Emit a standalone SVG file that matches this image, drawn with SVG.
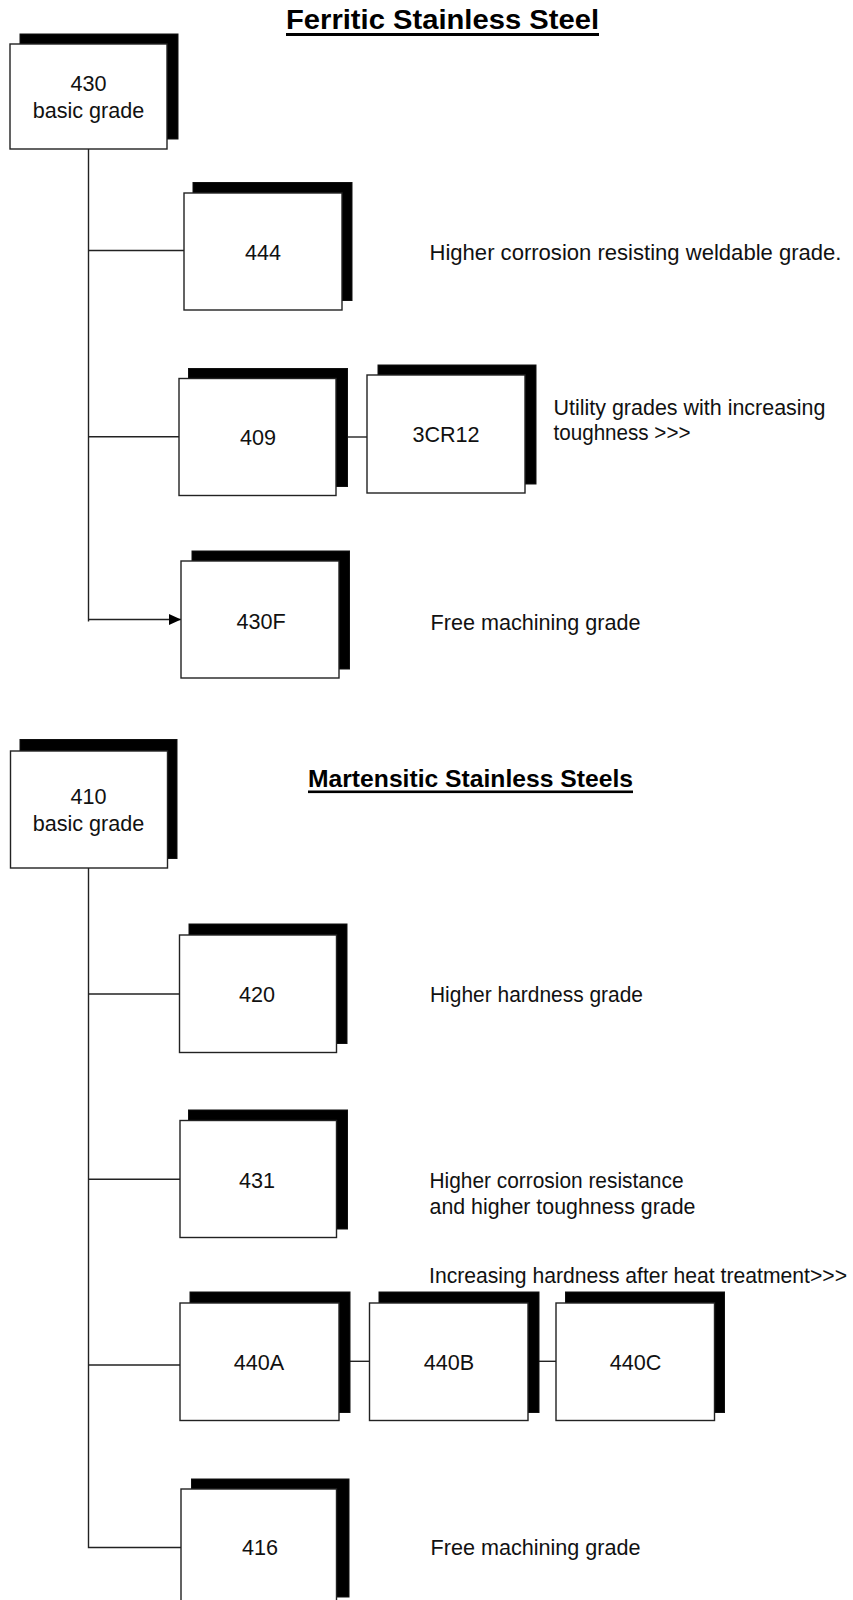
<svg xmlns="http://www.w3.org/2000/svg" width="853" height="1600" viewBox="0 0 853 1600">
<defs>
<style>
.sh{fill:#000;stroke:#111;stroke-width:1}
.bx{fill:#fff;stroke:#222;stroke-width:1.4}
.ln{fill:none;stroke:#222;stroke-width:1.4}
.t{font-family:"Liberation Sans",Arial,sans-serif;font-size:21.6px;fill:#111}
.c{text-anchor:middle}
.h{font-family:"Liberation Sans",Arial,sans-serif;font-weight:bold;fill:#000}
.ul{fill:#000}
</style>
<marker id="arr" markerWidth="13" markerHeight="12" refX="12" refY="5.5" orient="auto" markerUnits="userSpaceOnUse">
<path d="M0,0 L12,5.5 L0,11 z" fill="#000"/>
</marker>
</defs>
<rect width="853" height="1600" fill="#fff"/>

<g id="title-ferritic">
<text class="h" x="286" y="29" font-size="28.5" textLength="313" lengthAdjust="spacingAndGlyphs">Ferritic Stainless Steel</text>
<rect class="ul" x="286" y="33" width="313" height="3"/>
</g>

<g id="title-martensitic">
<text class="h" x="308" y="786.5" font-size="24.5" textLength="325" lengthAdjust="spacingAndGlyphs">Martensitic Stainless Steels</text>
<rect class="ul" x="308" y="790.5" width="325" height="2.6"/>
</g>

<g id="connectors">
<path class="ln" d="M88.5,149 V621.5"/>
<path class="ln" d="M88.5,250.5 H184"/>
<path class="ln" d="M88.5,436.8 H179"/>
<path class="ln" d="M336,437 H367"/>
<path class="ln" d="M88.5,619.5 H181" marker-end="url(#arr)"/>
<path class="ln" d="M88.5,868 V1547.5 H181"/>
<path class="ln" d="M88.5,994 H179.5"/>
<path class="ln" d="M88.5,1179.3 H180"/>
<path class="ln" d="M88.5,1365 H180"/>
<path class="ln" d="M339,1361.3 H369.5"/>
<path class="ln" d="M528,1361.3 H556"/>
</g>

<g id="n430">
<rect class="sh" x="20" y="34" width="158" height="105"/>
<rect class="bx" x="10" y="44" width="157" height="105"/>
<text class="t c" x="88.5" y="90.5">430</text>
<text class="t c" x="88.5" y="118">basic grade</text>
</g>

<g id="n444">
<rect class="sh" x="193" y="182.5" width="159" height="118"/>
<rect class="bx" x="184" y="193" width="158" height="117"/>
<text class="t c" x="263" y="260">444</text>
</g>
<text class="t" x="429.5" y="260" textLength="412" lengthAdjust="spacingAndGlyphs">Higher corrosion resisting weldable grade.</text>

<g id="n409">
<rect class="sh" x="188.5" y="368.5" width="159" height="118"/>
<rect class="bx" x="179" y="378.5" width="157" height="117"/>
<text class="t c" x="258" y="445">409</text>
</g>

<g id="n3CR12">
<rect class="sh" x="378" y="365" width="158" height="119"/>
<rect class="bx" x="367" y="375" width="158" height="118"/>
<text class="t c" x="446" y="442">3CR12</text>
</g>
<text class="t" x="553.5" y="415" textLength="272" lengthAdjust="spacingAndGlyphs">Utility grades with increasing</text>
<text class="t" x="553.5" y="440" textLength="137" lengthAdjust="spacingAndGlyphs">toughness &gt;&gt;&gt;</text>

<g id="n430F">
<rect class="sh" x="192" y="551" width="157.5" height="118"/>
<rect class="bx" x="181" y="561" width="158" height="117"/>
<text class="t c" x="261" y="628.5">430F</text>
</g>
<text class="t" x="430.5" y="630">Free machining grade</text>

<g id="n410">
<rect class="sh" x="20" y="739.5" width="157" height="119"/>
<rect class="bx" x="10.5" y="751" width="157" height="117"/>
<text class="t c" x="88.5" y="804">410</text>
<text class="t c" x="88.5" y="830.5">basic grade</text>
</g>

<g id="n420">
<rect class="sh" x="189" y="924" width="158" height="119.5"/>
<rect class="bx" x="179.5" y="935" width="157" height="117.5"/>
<text class="t c" x="257" y="1001.5">420</text>
</g>
<text class="t" x="430" y="1001.5" textLength="213" lengthAdjust="spacingAndGlyphs">Higher hardness grade</text>

<g id="n431">
<rect class="sh" x="188.5" y="1110" width="159" height="119"/>
<rect class="bx" x="180" y="1120.5" width="156.5" height="117"/>
<text class="t c" x="257" y="1188">431</text>
</g>
<text class="t" x="429.5" y="1188" textLength="254" lengthAdjust="spacingAndGlyphs">Higher corrosion resistance</text>
<text class="t" x="429.5" y="1213.5" textLength="266" lengthAdjust="spacingAndGlyphs">and higher toughness grade</text>
<text class="t" x="429" y="1283" textLength="418" lengthAdjust="spacingAndGlyphs">Increasing hardness after heat treatment&gt;&gt;&gt;</text>

<g id="n440A">
<rect class="sh" x="190" y="1292" width="160" height="120.5"/>
<rect class="bx" x="180" y="1303" width="159" height="117.5"/>
<text class="t c" x="259" y="1370">440A</text>
</g>

<g id="n440B">
<rect class="sh" x="379" y="1292" width="160" height="120.5"/>
<rect class="bx" x="369.5" y="1303" width="158.5" height="117.5"/>
<text class="t c" x="449" y="1370">440B</text>
</g>

<g id="n440C">
<rect class="sh" x="565.5" y="1292" width="159" height="120.5"/>
<rect class="bx" x="556" y="1303" width="158.5" height="117.5"/>
<text class="t c" x="635.5" y="1370">440C</text>
</g>

<g id="n416">
<rect class="sh" x="191.5" y="1479" width="157.5" height="118"/>
<rect class="bx" x="181" y="1489" width="155.5" height="118"/>
<text class="t c" x="260" y="1555">416</text>
</g>
<text class="t" x="430.5" y="1555">Free machining grade</text>
</svg>
